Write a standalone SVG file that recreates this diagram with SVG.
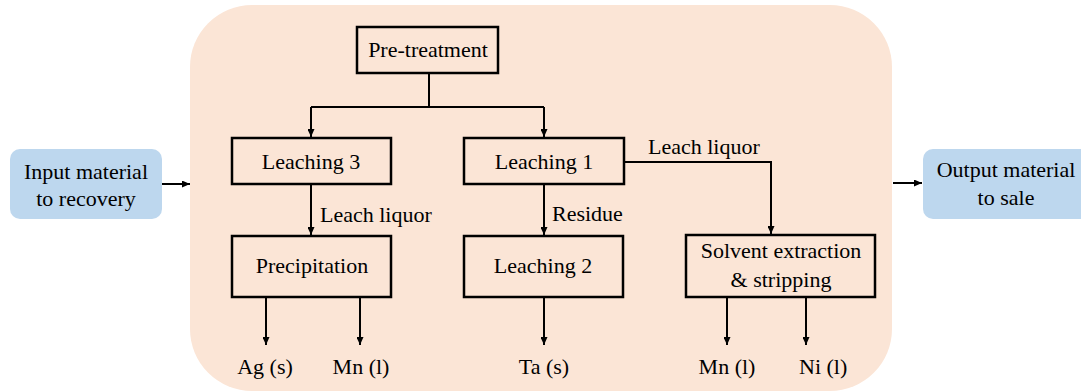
<svg xmlns="http://www.w3.org/2000/svg" width="1081" height="391" viewBox="0 0 1081 391">
  <style>
    text { font-family: "Liberation Serif", "Times New Roman", serif; font-size: 22px; fill: #000; }
    .c { text-anchor: middle; }
    .box { fill: none; stroke: #000; stroke-width: 2.5; }
    .io { fill: #BDD7EE; stroke: none; }
    .conn path { fill: none; stroke: #000; stroke-width: 2; }
    .arr { marker-end: url(#ah); }
  </style>
  <defs>
    <marker id="ah" markerUnits="userSpaceOnUse" markerWidth="8" markerHeight="7" refX="8" refY="3.5" orient="auto">
      <path d="M0,0 L8,3.5 L0,7 Z" fill="#000"/>
    </marker>
  </defs>

  <rect id="process-area" x="190" y="5" width="702" height="386" rx="62" ry="62" fill="#FBE5D6"/>

  <g id="input">
    <rect class="io" x="10" y="149" width="152" height="70" rx="10" ry="10"/>
    <text class="c" x="86" y="179">Input material</text>
    <text class="c" x="86" y="206">to recovery</text>
  </g>

  <g id="output">
    <rect class="io" x="923" y="149" width="168" height="70" rx="10" ry="10"/>
    <text class="c" x="1006" y="177">Output material</text>
    <text class="c" x="1006" y="205">to sale</text>
  </g>

  <g id="pretreatment">
    <rect class="box" x="357" y="27" width="141" height="46"/>
    <text class="c" x="428" y="57">Pre-treatment</text>
  </g>

  <g id="leaching3">
    <rect class="box" x="232" y="138" width="159" height="46"/>
    <text class="c" x="311" y="169">Leaching 3</text>
  </g>

  <g id="leaching1">
    <rect class="box" x="464" y="138" width="160" height="46"/>
    <text class="c" x="544" y="169">Leaching 1</text>
  </g>

  <g id="precipitation">
    <rect class="box" x="232" y="236" width="159" height="61"/>
    <text class="c" x="312" y="273">Precipitation</text>
  </g>

  <g id="leaching2">
    <rect class="box" x="464" y="236" width="159" height="61"/>
    <text class="c" x="543" y="273">Leaching 2</text>
  </g>

  <g id="solvent">
    <rect class="box" x="686" y="235" width="189" height="62"/>
    <text class="c" x="781" y="258">Solvent extraction</text>
    <text class="c" x="781" y="287">&amp; stripping</text>
  </g>

  <g id="connectors" class="conn">
    <path class="arr" d="M162,184 H190"/>
    <path class="arr" d="M893,183 H922"/>
    <path d="M429,73 V107"/>
    <path d="M311,107 H544"/>
    <path class="arr" d="M311,107 V137"/>
    <path class="arr" d="M544,107 V137"/>
    <path class="arr" d="M311,184 V235"/>
    <path class="arr" d="M544,184 V235"/>
    <path class="arr" d="M624,162 H771 V234"/>
    <path class="arr" d="M266,297 V345"/>
    <path class="arr" d="M360,297 V345"/>
    <path class="arr" d="M544,297 V345"/>
    <path class="arr" d="M727,297 V345"/>
    <path class="arr" d="M806,297 V345"/>
  </g>

  <g id="labels">
    <text x="320" y="222">Leach liquor</text>
    <text x="552" y="221">Residue</text>
    <text x="648" y="154">Leach liquor</text>
    <text class="c" x="265" y="374">Ag (s)</text>
    <text class="c" x="361" y="374">Mn (l)</text>
    <text class="c" x="544" y="374">Ta (s)</text>
    <text class="c" x="727" y="374">Mn (l)</text>
    <text x="799" y="374">Ni (l)</text>
  </g>
</svg>
